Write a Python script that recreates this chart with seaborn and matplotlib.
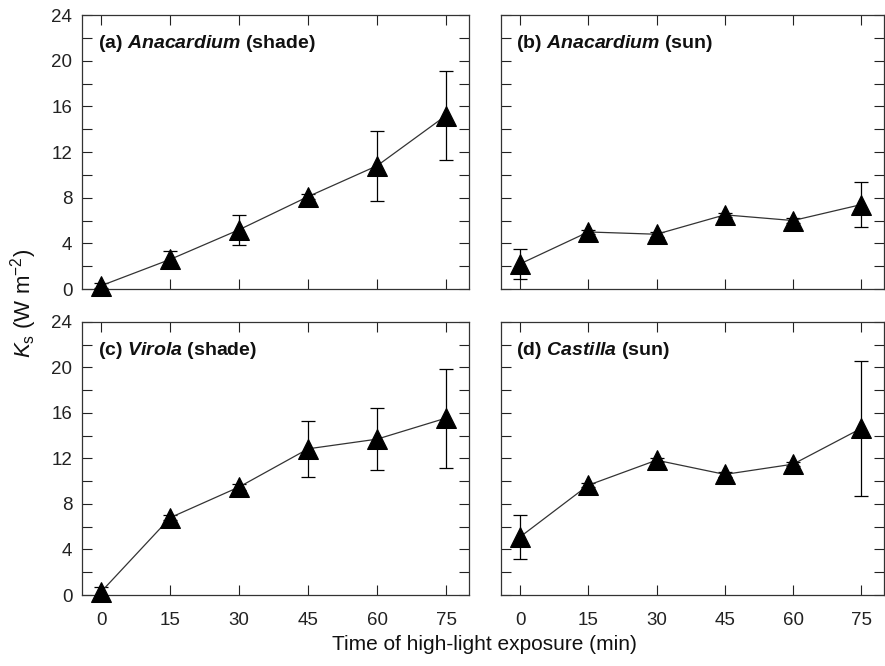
import numpy as np
import pandas as pd
import matplotlib
matplotlib.use("Agg")
import matplotlib.pyplot as plt
from matplotlib.ticker import MultipleLocator
import seaborn as sns


# ======================================================
# DATA
# ======================================================
time_min = [0, 15, 30, 45, 60, 75]

anacardium_shade = [0.3, 2.6, 5.2, 8.1, 10.8, 15.2]
anacardium_shade_err = [0.2, 0.75, 1.3, 0.2, 3.05, 3.9]

anacardium_sun = [2.2, 5.0, 4.8, 6.5, 6.0, 7.4]
anacardium_sun_err = [1.35, 0.2, 0.2, 0.2, 0.2, 2.0]

virola_shade = [0.3, 6.8, 9.5, 12.85, 13.7, 15.55]
virola_shade_err = [0.4, 0.2, 0.25, 2.45, 2.7, 4.35]

castilla_sun = [5.1, 9.65, 11.85, 10.6, 11.5, 14.65]
castilla_sun_err = [1.9, 0.2, 0.2, 0.2, 0.2, 5.95]

panel_labels = [
    r"(a) $\mathbfit{Anacardium}$ (shade)",
    r"(b) $\mathbfit{Anacardium}$ (sun)",
    r"(c) $\mathbfit{Virola}$ (shade)",
    r"(d) $\mathbfit{Castilla}$ (sun)",
]


# ======================================================
# STYLE
# ======================================================
sns.set_style("ticks")
plt.rcParams["font.family"] = ["Liberation Sans", "DejaVu Sans"]
plt.rcParams["mathtext.fontset"] = "custom"
plt.rcParams["mathtext.rm"] = "Liberation Sans"
plt.rcParams["mathtext.it"] = "Liberation Sans:italic"
plt.rcParams["mathtext.bf"] = "Liberation Sans:bold"
plt.rcParams["mathtext.bfit"] = "Liberation Sans:italic:bold"


def draw_panel(ax, y, err, label, show_x, show_y):
    df = pd.DataFrame({"time": time_min, "ks": y})
    ax.errorbar(time_min, y, yerr=err, fmt="none", ecolor="black",
                elinewidth=0.9, capsize=5, capthick=0.9, zorder=2)
    sns.lineplot(data=df, x="time", y="ks", ax=ax, color="#333333",
                 linewidth=0.9, marker="^", markersize=14,
                 markerfacecolor="black", markeredgecolor="black",
                 clip_on=False, zorder=3)

    ax.set_xlim(-4.2, 80)
    ax.set_ylim(0, 24)
    ax.set_xticks(time_min)
    ax.yaxis.set_major_locator(MultipleLocator(4))
    ax.yaxis.set_minor_locator(MultipleLocator(2))
    ax.tick_params(which="both", direction="in", top=True, right=True,
                   length=7, width=0.8, labelsize=13.5, color="#222222",
                   labelcolor="#222222")
    ax.tick_params(axis="x", which="minor", bottom=False, top=False)
    ax.tick_params(axis="x", pad=12)
    ax.tick_params(axis="y", pad=7)
    if not show_x:
        ax.tick_params(axis="x", labelbottom=False)
    if not show_y:
        ax.tick_params(axis="y", labelleft=False)
    for s in ax.spines.values():
        s.set_linewidth(0.9)
        s.set_color("#333333")
    ax.set_xlabel("")
    ax.set_ylabel("")
    ax.text(0.04, 0.935, label, transform=ax.transAxes, fontsize=14,
            fontweight="bold", va="top", ha="left", color="#111111")


# ======================================================
# FIGURE
# ======================================================
fig = plt.figure(figsize=(8.85, 6.66), dpi=100)

ax_a = fig.add_axes([0.0927, 0.566, 0.4373, 0.4114])
ax_b = fig.add_axes([0.566, 0.566, 0.433, 0.4114])
ax_c = fig.add_axes([0.0927, 0.1066, 0.4373, 0.41])
ax_d = fig.add_axes([0.566, 0.1066, 0.433, 0.41])

draw_panel(ax_a, anacardium_shade, anacardium_shade_err, panel_labels[0], False, True)
draw_panel(ax_b, anacardium_sun, anacardium_sun_err, panel_labels[1], False, False)
draw_panel(ax_c, virola_shade, virola_shade_err, panel_labels[2], True, True)
draw_panel(ax_d, castilla_sun, castilla_sun_err, panel_labels[3], True, False)

fig.text(0.027, 0.545, r"$K_\mathrm{s}$ (W m$^{-2}$)", rotation=90,
         ha="center", va="center", fontsize=16, color="#111111")
fig.text(0.547, 0.024, "Time of high-light exposure (min)",
         ha="center", va="baseline", fontsize=15, color="#111111")

fig.savefig("out.png", dpi=100)
